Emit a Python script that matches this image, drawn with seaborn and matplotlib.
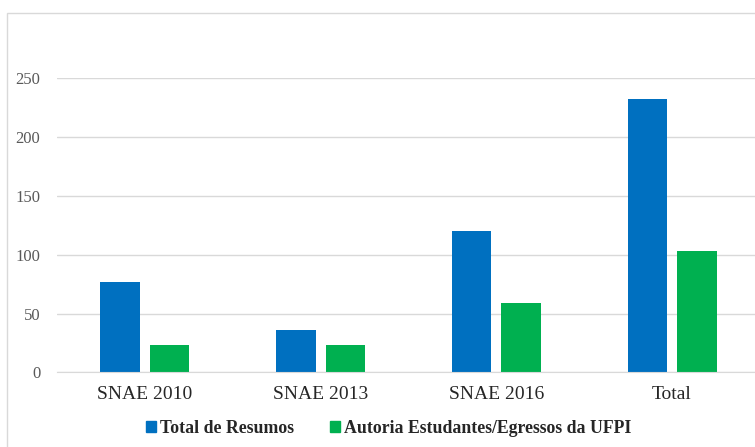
import seaborn as sns
import matplotlib.pyplot as plt
import pandas as pd
from matplotlib.patches import Rectangle

# Dados
eventos = ["SNAE 2010", "SNAE 2013", "SNAE 2016", "Total"]
total_resumos = [77, 36, 120, 232]
autoria_ufpi = [23, 23, 59, 103]
series = ["Total de Resumos", "Autoria Estudantes/Egressos da UFPI"]
cores = ["#0070C0", "#00B050"]
y_ticks = [0, 50, 100, 150, 200, 250]

df = pd.DataFrame({
    "evento": eventos * 2,
    "valor": total_resumos + autoria_ufpi,
    "serie": [series[0]] * len(eventos) + [series[1]] * len(eventos),
})

sns.set_style("white")
plt.rcParams["font.family"] = ["Liberation Serif", "DejaVu Serif"]

fig = plt.figure(figsize=(7.55, 4.47), dpi=100)
ax = fig.add_axes([0.0755, 0.167, 0.931, 0.658])

sns.barplot(data=df, x="evento", y="valor", hue="serie", order=eventos,
            hue_order=series, palette=cores, saturation=1, width=0.563,
            gap=0.2, edgecolor="none", ax=ax)

ax.set_xlim(-0.5, 3.5)
ax.set_ylim(0, 250)
ax.set_yticks(y_ticks)
ax.yaxis.grid(True, color="#d9d9d9", linewidth=1)
ax.set_axisbelow(True)
for s in ["top", "right", "left"]:
    ax.spines[s].set_visible(False)
ax.spines["bottom"].set_color("#d9d9d9")
ax.tick_params(axis="y", length=0, pad=12, labelsize=12, labelcolor="#595959")
ax.tick_params(axis="x", length=0, pad=10, labelsize=14, labelcolor="#262626")
ax.set_xlabel("")
ax.set_ylabel("")

ax.get_legend().remove()
handles = [Rectangle((0, 0), 1, 1, color=c) for c in cores]
fig.legend(handles, series, loc="center", bbox_to_anchor=(0.515, 0.0425),
           ncol=2, frameon=False, handlelength=0.55, handleheight=0.55,
           handletextpad=0.25, columnspacing=2.0,
           prop={"size": 12.8, "weight": "bold"})

# borda da área do gráfico
fig.patches.append(Rectangle((7 / 755, -0.05), 1.1, 0.05 + (447 - 13) / 447,
                             transform=fig.transFigure, fill=False,
                             edgecolor="#d9d9d9", linewidth=1))

fig.savefig("out.png", dpi=100)
